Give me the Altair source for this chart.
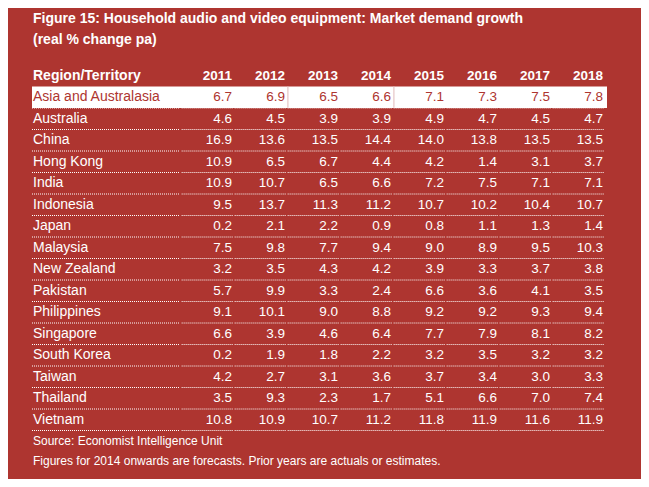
import altair as alt
import pandas as pd

regions = ["Asia and Australasia", "Australia", "China", "Hong Kong", "India",
           "Indonesia", "Japan", "Malaysia", "New Zealand", "Pakistan",
           "Philippines", "Singapore", "South Korea", "Taiwan", "Thailand", "Vietnam"]
years = [2011, 2012, 2013, 2014, 2015, 2016, 2017, 2018]

v2011 = [6.7, 4.6, 16.9, 10.9, 10.9, 9.5, 0.2, 7.5, 3.2, 5.7, 9.1, 6.6, 0.2, 4.2, 3.5, 10.8]
v2012 = [6.9, 4.5, 13.6, 6.5, 10.7, 13.7, 2.1, 9.8, 3.5, 9.9, 10.1, 3.9, 1.9, 2.7, 9.3, 10.9]
v2013 = [6.5, 3.9, 13.5, 6.7, 6.5, 11.3, 2.2, 7.7, 4.3, 3.3, 9.0, 4.6, 1.8, 3.1, 2.3, 10.7]
v2014 = [6.6, 3.9, 14.4, 4.4, 6.6, 11.2, 0.9, 9.4, 4.2, 2.4, 8.8, 6.4, 2.2, 3.6, 1.7, 11.2]
v2015 = [7.1, 4.9, 14.0, 4.2, 7.2, 10.7, 0.8, 9.0, 3.9, 6.6, 9.2, 7.7, 3.2, 3.7, 5.1, 11.8]
v2016 = [7.3, 4.7, 13.8, 1.4, 7.5, 10.2, 1.1, 8.9, 3.3, 3.6, 9.2, 7.9, 3.5, 3.4, 6.6, 11.9]
v2017 = [7.5, 4.5, 13.5, 3.1, 7.1, 10.4, 1.3, 9.5, 3.7, 4.1, 9.3, 8.1, 3.2, 3.0, 7.0, 11.6]
v2018 = [7.8, 4.7, 13.5, 3.7, 7.1, 10.7, 1.4, 10.3, 3.8, 3.5, 9.4, 8.2, 3.2, 3.3, 7.4, 11.9]

header_label = "Region/Territory"
title_lines = ["Figure 15: Household audio and video equipment: Market demand growth",
               "(real % change pa)"]
source_lines = ["Source: Economist Intelligence Unit",
                "Figures for 2014 onwards are forecasts. Prior years are actuals or estimates."]
divider_years = [2012, 2014]

BG = "#AE3530"
WHITE = "#FFFFFF"
FONT = "Liberation Sans"

cols = [v2011, v2012, v2013, v2014, v2015, v2016, v2017, v2018]
rows = []
for yi, yr in enumerate(years):
    for ri, reg in enumerate(regions):
        rows.append({"region": reg, "year": yr, "value": cols[yi][ri],
                     "highlight": ri == 0})
cells = pd.DataFrame(rows)
names = pd.DataFrame({"region": regions, "highlight": [i == 0 for i in range(len(regions))]})
header_years = pd.DataFrame({"region": ["__header__"] * len(years), "year": years})
header_name = pd.DataFrame({"region": ["__header__"], "label": [header_label]})
dividers = pd.DataFrame({"region": [regions[0]] * len(divider_years), "year": divider_years})
band_row = pd.DataFrame({"region": [regions[0]]})

y_domain = ["__header__"] + regions
yscale = alt.Scale(domain=y_domain, range=[57, 422.5], paddingInner=0, paddingOuter=0)
xscale = alt.Scale(domain=[2011, 2018], range=[224, 595])
Y = alt.Y("region:N", scale=yscale, axis=None)
X = alt.X("year:Q", scale=xscale, axis=None)
Ybottom = alt.Y("region:N", scale=yscale, axis=None, bandPosition=1)

band = alt.Chart(band_row).mark_rect(color=WHITE).encode(
    y=Y, x=alt.value(24), x2=alt.value(599))

div = alt.Chart(dividers).mark_rect(color="#E2BDBD").transform_calculate(
    xs="datum.year + 0.045", xe="datum.year + 0.065").encode(
    x=alt.X("xs:Q", scale=xscale, axis=None), x2="xe:Q", y=Y)

# dotted separators, one segment per cell (small gaps between columns)
cell_lines = alt.Chart(cells).mark_rule(
    color=WHITE, strokeWidth=1, strokeDash=[1, 1]).transform_calculate(
    xs="datum.year - 0.95", xe="datum.year + 0.03").encode(
    y=Ybottom,
    x=alt.X("xs:Q", scale=xscale, axis=None),
    x2="xe:Q")

name_lines = alt.Chart(names).mark_rule(
    color=WHITE, strokeWidth=1, strokeDash=[1, 1]).encode(
    y=Ybottom, x=alt.value(24), x2=alt.value(172))

color_enc = alt.condition("datum.highlight", alt.value(BG), alt.value(WHITE))

name_text = alt.Chart(names).mark_text(
    align="left", baseline="middle", font=FONT, fontSize=14).encode(
    y=Y, x=alt.value(25), text="region:N", color=color_enc)

num_text = alt.Chart(cells).mark_text(
    align="right", baseline="middle", font=FONT, fontSize=13.5).encode(
    y=Y, x=X, text=alt.Text("value:Q", format=".1f"), color=color_enc)

hdr_years = alt.Chart(header_years).mark_text(
    align="right", baseline="middle", font=FONT, fontSize=13.5, fontWeight="bold",
    color=WHITE).encode(y=Y, x=X, text="year:O")

hdr_name = alt.Chart(header_name).mark_text(
    align="left", baseline="middle", font=FONT, fontSize=14, fontWeight="bold",
    color=WHITE).encode(y=Y, x=alt.value(25), text="label:N")

title1 = alt.Chart(pd.DataFrame({"t": [title_lines[0]]})).mark_text(
    align="left", baseline="alphabetic", font=FONT, fontSize=14, fontWeight="bold",
    color=WHITE).encode(x=alt.value(25), y=alt.value(15), text="t:N")
title2 = alt.Chart(pd.DataFrame({"t": [title_lines[1]]})).mark_text(
    align="left", baseline="alphabetic", font=FONT, fontSize=14, fontWeight="bold",
    color=WHITE).encode(x=alt.value(25), y=alt.value(36), text="t:N")

src1 = alt.Chart(pd.DataFrame({"t": [source_lines[0]]})).mark_text(
    align="left", baseline="alphabetic", font=FONT, fontSize=12,
    color=WHITE).encode(x=alt.value(25), y=alt.value(437), text="t:N")
src2 = alt.Chart(pd.DataFrame({"t": [source_lines[1]]})).mark_text(
    align="left", baseline="alphabetic", font=FONT, fontSize=12,
    color=WHITE).encode(x=alt.value(25), y=alt.value(457), text="t:N")

chart = alt.layer(
    band, div, cell_lines, name_lines, name_text, num_text, hdr_years, hdr_name,
    title1, title2, src1, src2
).properties(
    width=633, height=471,
    padding=0, autosize=alt.AutoSizeParams(type="none"),
    background=BG
).configure_view(stroke=None)

chart.save("out.html", embed_options={"renderer": "svg", "actions": False})
